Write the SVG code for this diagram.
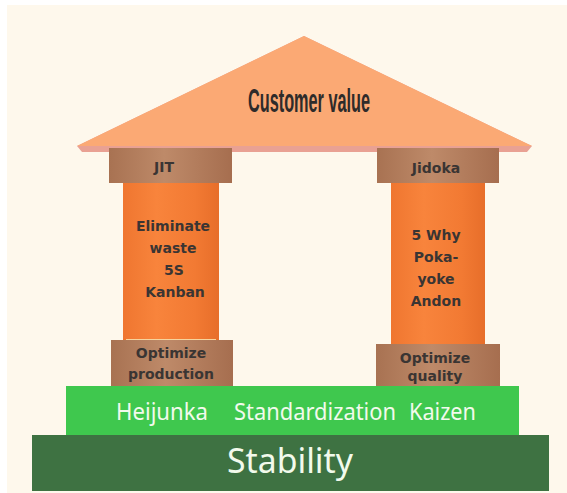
<svg xmlns="http://www.w3.org/2000/svg" width="567" height="493" viewBox="0 0 567 493">
  <defs>
    <linearGradient id="shaft" x1="0" y1="0" x2="1" y2="0">
      <stop offset="0" stop-color="#EF7630"/>
      <stop offset="0.35" stop-color="#F8843C"/>
      <stop offset="0.75" stop-color="#F27A33"/>
      <stop offset="1" stop-color="#E76E2A"/>
    </linearGradient>
    <linearGradient id="capital" x1="0" y1="0" x2="1" y2="0">
      <stop offset="0" stop-color="#A87252"/>
      <stop offset="0.45" stop-color="#BE8A69"/>
      <stop offset="1" stop-color="#A66E4F"/>
    </linearGradient>
    <style>
      .lbl { font-family: "DejaVu Sans", "Liberation Sans", sans-serif; font-weight: bold; font-size: 14px; fill: #3A3533; text-anchor: middle; }
      .cap { fill: url(#capital); }
      .shaft { fill: url(#shaft); }
      .band { font-family: "Noto Sans", "Open Sans", sans-serif; fill: #F2FAEC; }
    </style>
  </defs>

  <!-- backdrop -->
  <rect x="0" y="0" width="567" height="493" fill="#FFFFFF"/>
  <rect x="7" y="5" width="560" height="488" fill="#FEF8EC"/>

  <!-- roof -->
  <g id="roof">
    <polygon points="304,36 532,146 527,152 82,152 77,146" fill="#E9A193"/>
    <polygon points="304,36 532,146 77,146" fill="#FBA974"/>
    <text transform="translate(309,112) scale(1,1.18)" x="0" y="0" text-anchor="middle" textLength="122" lengthAdjust="spacingAndGlyphs" font-family="Liberation Sans, Arial, sans-serif" font-weight="bold" font-size="28" fill="#2E2B2A">Customer value</text>
  </g>

  <!-- left pillar -->
  <g id="pillar-jit">
    <rect class="shaft" x="123" y="182" width="96" height="158"/>
    <line x1="126" y1="339.5" x2="216" y2="339.5" stroke="#F6D49E" stroke-width="1"/>
    <rect class="cap" x="109" y="148" width="123" height="35"/>
    <text class="lbl" x="164" y="172">JIT</text>
    <text class="lbl" x="173" y="231">Eliminate</text>
    <text class="lbl" x="173" y="253">waste</text>
    <text class="lbl" x="174" y="275">5S</text>
    <text class="lbl" x="175" y="297">Kanban</text>
    <rect class="cap" x="111" y="340" width="122" height="47"/>
    <text class="lbl" x="171" y="358">Optimize</text>
    <text class="lbl" x="171" y="379">production</text>
  </g>

  <!-- right pillar -->
  <g id="pillar-jidoka">
    <rect class="shaft" x="391" y="182" width="94" height="162"/>
    <rect class="cap" x="377" y="148" width="122" height="35"/>
    <text class="lbl" x="436" y="173">Jidoka</text>
    <text class="lbl" x="436" y="240">5 Why</text>
    <text class="lbl" x="436" y="262">Poka-</text>
    <text class="lbl" x="436" y="284">yoke</text>
    <text class="lbl" x="436" y="306">Andon</text>
    <rect class="cap" x="376" y="344" width="124" height="43"/>
    <text class="lbl" x="435" y="363" font-size="13.5">Optimize</text>
    <text class="lbl" x="435" y="381" font-size="13.5">quality</text>
  </g>

  <!-- foundation -->
  <g id="foundation-methods">
    <rect x="66" y="386" width="453" height="49" fill="#3FC84E"/>
    <text class="band" x="116" y="420" font-size="24" textLength="92" lengthAdjust="spacingAndGlyphs">Heijunka</text>
    <text class="band" x="234" y="420" font-size="24" textLength="162" lengthAdjust="spacingAndGlyphs">Standardization</text>
    <text class="band" x="409" y="420" font-size="24" textLength="67" lengthAdjust="spacingAndGlyphs">Kaizen</text>
  </g>
  <g id="foundation-stability">
    <rect x="32" y="435" width="517" height="56" fill="#3E7242"/>
    <text class="band" x="227" y="473" font-size="35" textLength="126" lengthAdjust="spacingAndGlyphs">Stability</text>
  </g>
</svg>
